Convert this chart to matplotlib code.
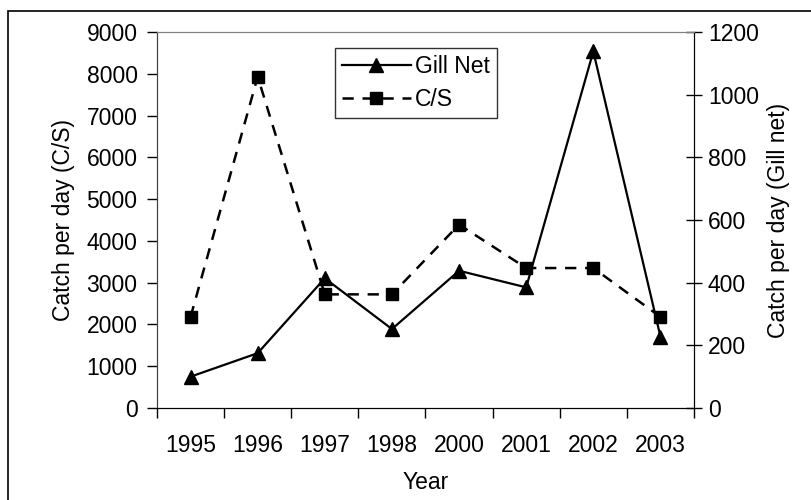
import matplotlib
matplotlib.use("Agg")
import matplotlib.pyplot as plt
from matplotlib.patches import Rectangle

years = ["1995", "1996", "1997", "1998", "2000", "2001", "2002", "2003"]
cs_values = [2180, 7930, 2720, 2720, 4390, 3350, 3350, 2180]
gill_values = [100, 175, 414, 252, 438, 385, 1138, 228]

plt.rcParams['font.family'] = ['Liberation Sans', 'DejaVu Sans']
fs = 16.5

fig = plt.figure(figsize=(8.12, 5.0), dpi=100)
ax = fig.add_axes([157/812, 1 - 408/500, (694-157)/812, (408-32)/500])
ax2 = ax.twinx()

x = list(range(len(years)))

l_cs, = ax.plot(x, cs_values, color='black', lw=1.8, ls=(0, (4.5, 3.5)),
                marker='s', ms=9, mfc='black', mec='black', label='C/S')
l_gn, = ax2.plot(x, gill_values, color='black', lw=1.6, ls='-',
                 marker='^', ms=10, mfc='black', mec='black', label='Gill Net')

ax.set_xlim(-0.5, len(years) - 0.5)
ax.set_ylim(0, 9000)
ax2.set_ylim(0, 1200)
ax.set_yticks(range(0, 9001, 1000))
ax2.set_yticks(range(0, 1201, 200))

ax.set_xticks([i - 0.5 for i in range(len(years) + 1)])
ax.set_xticklabels([])
ax.set_xticks(x, minor=True)
ax.set_xticklabels(years, minor=True, fontsize=fs)
ax.tick_params(axis='x', which='major', direction='out', length=7, width=1, color='black')
ax.tick_params(axis='x', which='minor', length=0, pad=19)
ax.tick_params(axis='y', direction='out', length=7, width=1, labelsize=fs, pad=7)
ax2.tick_params(axis='y', direction='inout', length=12, width=1, labelsize=fs, pad=4)

for a in (ax, ax2):
    a.spines['top'].set_color('#808080')
    a.spines['left'].set_color('#404040')
    a.spines['right'].set_color('black')
    a.spines['bottom'].set_color('black')

ax.set_ylabel('Catch per day (C/S)', fontsize=fs, labelpad=8)
ax2.set_ylabel('Catch per day (Gill net)', fontsize=fs, labelpad=6)
ax.set_xlabel('Year', fontsize=fs, labelpad=10)

leg = ax2.legend(handles=[l_gn, l_cs], loc='upper left',
                 bbox_to_anchor=((335-157)/537, 1 - (48-32)/376),
                 frameon=True, fancybox=False, edgecolor='black',
                 fontsize=fs, handlelength=3.0, borderaxespad=0,
                 handletextpad=0.2, labelspacing=0.45, borderpad=0.3)
leg.get_frame().set_linewidth(1)

fig.patches.append(Rectangle((8/812, -0.1), 1.2, 1.1 - 11/500,
                             transform=fig.transFigure, fill=False,
                             edgecolor='black', lw=1.2))

fig.savefig('out.png', dpi=100)
